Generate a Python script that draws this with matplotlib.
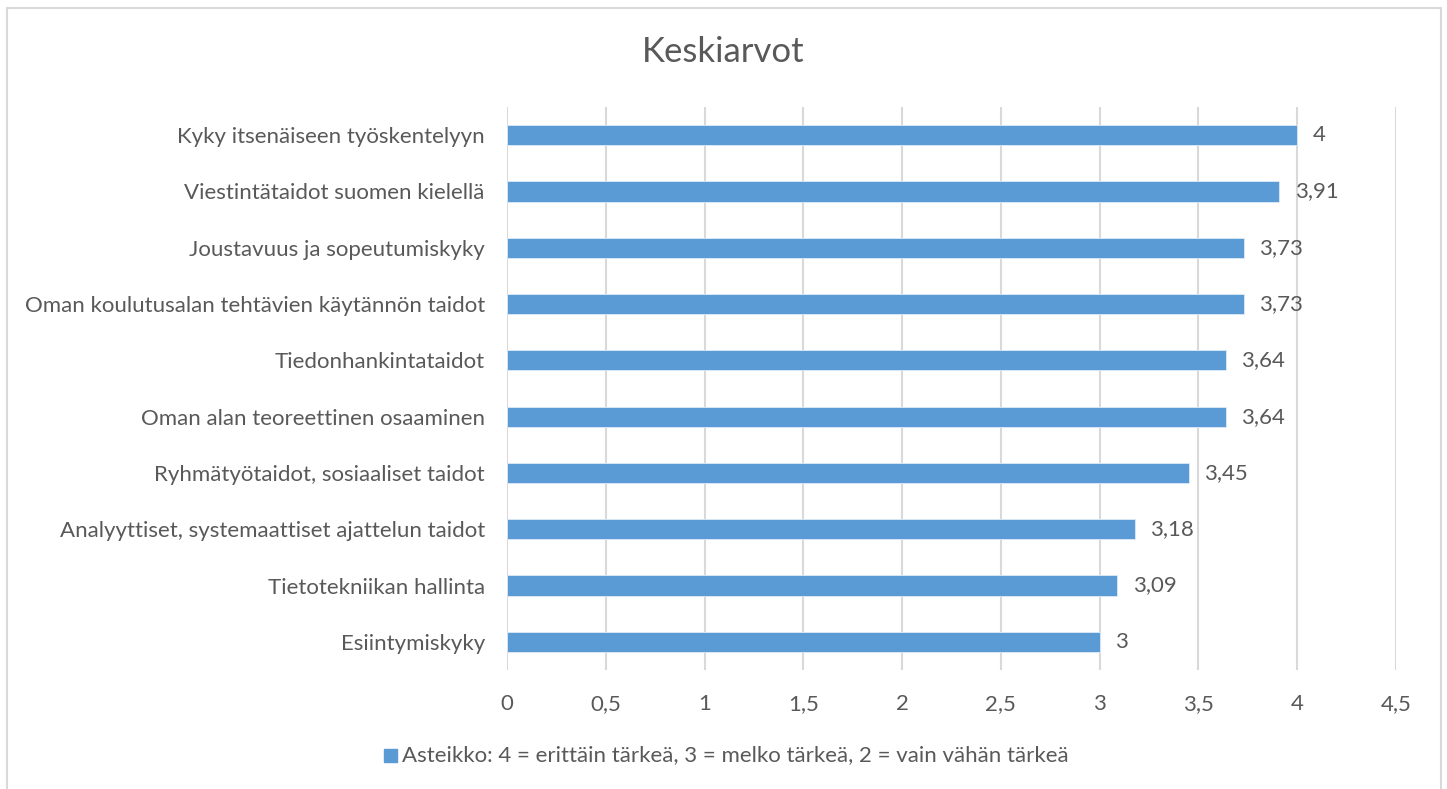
import matplotlib.pyplot as plt
from matplotlib.patches import Rectangle

plt.rcParams['font.family'] = ['Lato', 'DejaVu Sans']

# data, top to bottom as in the chart
categories = ['Kyky itsenäiseen työskentelyyn',
              'Viestintätaidot suomen kielellä',
              'Joustavuus ja sopeutumiskyky',
              'Oman koulutusalan tehtävien käytännön taidot',
              'Tiedonhankintataidot',
              'Oman alan teoreettinen osaaminen',
              'Ryhmätyötaidot, sosiaaliset taidot',
              'Analyyttiset, systemaattiset ajattelun taidot',
              'Tietotekniikan hallinta',
              'Esiintymiskyky']
values = [4, 3.91, 3.73, 3.73, 3.64, 3.64, 3.45, 3.18, 3.09, 3]
xticks = [0, 0.5, 1, 1.5, 2, 2.5, 3, 3.5, 4, 4.5]
legend_text = 'Asteikko: 4 = erittäin tärkeä, 3 = melko tärkeä, 2 = vain vähän tärkeä'

blue = '#5b9bd5'
grey = '#595959'

fig = plt.figure(figsize=(14.47, 7.89), dpi=100)
fig.patches.append(Rectangle((7 / 1447, -0.01), 1434 / 1447, 1 - 8 / 789 + 0.01,
                             transform=fig.transFigure, fill=False,
                             edgecolor='#d9d9d9', linewidth=1.5))

ax = fig.add_axes([507 / 1447, 1 - 670 / 789, 889 / 1447, 563 / 789])
ypos = list(range(len(categories)))
ax.barh(ypos, values, height=0.36, color=blue, edgecolor='#deebf7', linewidth=0.6, zorder=3)
ax.set_ylim(len(categories) - 0.5, -0.5)
ax.set_xlim(0, 4.5)
ax.set_xticks(xticks)
ax.set_xticklabels([str(t).replace('.', ',') for t in xticks])
ax.set_yticks(ypos)
ax.set_yticklabels(categories)
ax.tick_params(axis='both', length=0, labelsize=16, labelcolor=grey)
ax.tick_params(axis='y', pad=16)
ax.tick_params(axis='x', pad=17)
ax.grid(axis='x', color='#d9d9d9', linewidth=1.5, zorder=0)
for s in ax.spines.values():
    s.set_visible(False)

for y, v in zip(ypos, values):
    ax.annotate(('%g' % v).replace('.', ','), (v, y), xytext=(11, 0),
                textcoords='offset points', va='center', ha='left',
                fontsize=16, color=grey)

fig.text(0.5, 1 - 52 / 789, 'Keskiarvot', ha='center', va='center',
         fontsize=25, color=grey)

fig.patches.append(Rectangle((384 / 1447, 1 - 762 / 789), 13 / 1447, 13 / 789,
                             transform=fig.transFigure, color=blue))
fig.text(402 / 1447, 1 - 755 / 789, legend_text, ha='left', va='center',
         fontsize=16, color=grey)

fig.savefig('out.png', dpi=100, facecolor='white')
